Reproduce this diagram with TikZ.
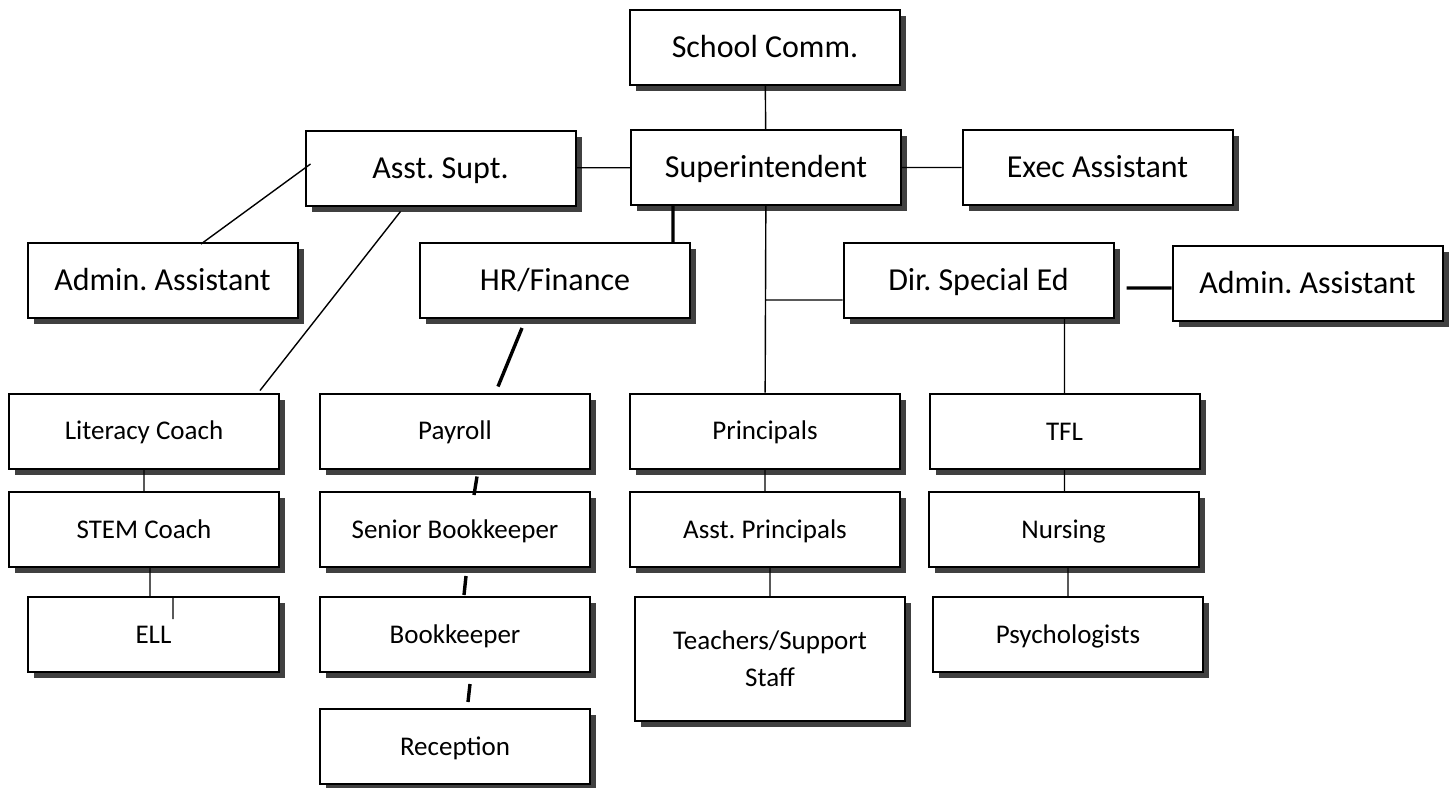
\documentclass[tikz,border=0pt]{standalone}
\usepackage{fontspec}
\setmainfont{Carlito}
\usepackage{tikz}
\usepackage{xcolor}
\usetikzlibrary{positioning,shadows}
\frenchspacing

\begin{document}
\begin{tikzpicture}[x=0.5pt,y=-0.5pt]
\useasboundingbox (0,0) rectangle (1450,787);
\tikzstyle{box}=[draw,line width=1pt,fill=white,inner sep=0pt,
  minimum width=135pt,minimum height=37.5pt,
  drop shadow={shadow xshift=3pt,shadow yshift=-3pt,fill=black!75,opacity=1}]
\tikzstyle{bigbox}=[box,font=\fontsize{16}{19}\selectfont,text height=13.6pt,text depth=3.2pt]
\tikzstyle{smallbox}=[box,font=\fontsize{13.5}{18.5}\selectfont,text height=11.5pt,text depth=2.7pt]
\tikzstyle{thinlink}=[line width=0.7pt]
\tikzstyle{thicklink}=[line width=1.7pt]

% top rows
\draw node[bigbox] (school) at (765,47) {School Comm.};
\draw node[bigbox] (supt) at (766,167.5) {Superintendent};
\draw node[bigbox] (exec) at (1097.5,167.5) {Exec Assistant};
\draw node[bigbox] (asupt) at (440.5,168) {Asst. Supt.};
\draw node[bigbox] (adminL) at (162.5,280.5) {Admin. Assistant};
\draw node[bigbox] (hr) at (555,280.5) {HR/Finance};
\draw node[bigbox] (dirsped) at (978.5,280.5) {Dir. Special Ed};
\draw node[bigbox] (adminR) at (1307.5,283) {Admin. Assistant};

% columns
\draw node[smallbox] (literacy) at (144,431) {Literacy Coach};
\draw node[smallbox] (stem) at (144,529.5) {STEM Coach};
\draw node[smallbox,minimum width=125.5pt] (ell) at (153.5,634.5) {ELL};
\draw node[smallbox] (payroll) at (455,431) {Payroll};
\draw node[smallbox] (senior) at (455,529.5) {Senior Bookkeeper};
\draw node[smallbox] (book) at (455,634.5) {Bookkeeper};
\draw node[smallbox] (reception) at (455,746.5) {Reception};
\draw node[smallbox] (principals) at (765,431) {Principals};
\draw node[smallbox] (asstp) at (765,529.5) {Asst. Principals};
\draw node[box,align=center,font=\fontsize{13.5}{18.5}\selectfont,minimum height=62pt] (teachers) at (770,659) {Teachers/Support\\Staff};
\draw node[smallbox] (tfl) at (1064.5,431.5) {TFL};
\draw node[smallbox] (nursing) at (1063.5,529.5) {Nursing};
\draw node[smallbox] (psych) at (1068,634.5) {Psychologists};

\coordinate (branch) at (766,300);

\draw[thinlink] (school) -- (supt)
(asupt) -- (supt)
(supt) -- (exec)
(supt) -- (principals)
(dirsped.west |- branch) -- (branch)
(tfl.north) -- (tfl.north |- dirsped.south)
(tfl.south) -- (tfl.south |- nursing.north)
(psych.north) -- (psych.north |- nursing.south)
(principals) -- (asstp)
(teachers.north) -- (teachers.north |- asstp.south)
(literacy) -- (stem)
([xshift=3pt]stem.south) -- ([xshift=-1.75pt]ell.north)
([xshift=9.75pt]ell.north) -- ++(0,-11.5pt)
([xshift=3pt,yshift=2pt]asupt.west) -- ([xshift=19.25pt,yshift=-1pt]adminL.north)
([xshift=-20pt,yshift=-2.5pt]asupt.south) -- ([xshift=58pt,yshift=1pt]literacy.north);

\draw[thicklink] ([xshift=-46.5pt]supt.south) -- ([xshift=-46.5pt]supt.south |- hr.north)
([xshift=6pt,yshift=-3.75pt]dirsped.east) -- ([yshift=-2.5pt]adminR.west)
([xshift=-16.5pt,yshift=-4.5pt]hr.south) -- ([xshift=21.5pt,yshift=3pt]payroll.north)
([xshift=11pt,yshift=-3.5pt]payroll.south) -- ([xshift=9.5pt,yshift=-2pt]senior.north)
([xshift=5.5pt,yshift=-4pt]senior.south) -- ([xshift=4.5pt,yshift=0.5pt]book.north)
([xshift=7.5pt,yshift=-5.5pt]book.south) -- ([xshift=6.5pt,yshift=3pt]reception.north);
\end{tikzpicture}
\end{document}
